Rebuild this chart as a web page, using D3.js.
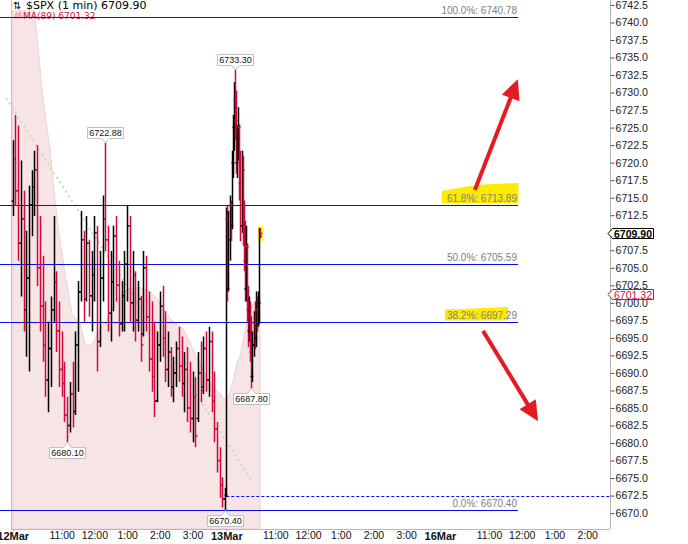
<!DOCTYPE html>
<html>
<head>
<meta charset="utf-8">
<script src="https://cdn.jsdelivr.net/npm/d3@7/dist/d3.min.js"></script>
<style>
  body { margin: 0; background: #fff; }
  svg { display: block; }
</style>
</head>
<body>
<div id="chart"></div>
<script>
// $SPX 1 min. rows: [minute of session, open, high, low, close]
const mar12Bars = [
  [0,6714.5,6723.2,6712.4,6720.5],[5,6720.5,6726.8,6713.8,6716.0],[10,6716.0,6725.3,6706.0,6708.5],
  [15,6708.5,6720.3,6700.9,6712.0],[20,6712.0,6716.0,6695.9,6699.0],[25,6699.0,6710.3,6692.3,6703.5],
  [30,6703.5,6716.7,6690.2,6714.0],[35,6714.0,6718.9,6709.5,6716.5],[40,6716.5,6721.7,6712.4,6719.0],
  [45,6719.0,6722.5,6702.4,6705.0],[50,6705.0,6712.4,6695.9,6699.5],[55,6699.5,6706.7,6691.6,6694.0],
  [60,6694.0,6700.2,6686.6,6689.0],[65,6689.0,6697.3,6684.4,6693.5],[70,6693.5,6700.9,6688.0,6699.0],
  [75,6699.0,6712.4,6697.3,6703.0],[80,6703.0,6704.5,6693.0,6696.0],[85,6696.0,6700.2,6688.0,6690.5],
  [90,6690.5,6695.9,6686.6,6688.5],[95,6688.5,6691.6,6683.0,6684.0],[100,6684.0,6686.6,6680.1,6682.5],
  [105,6682.5,6688.7,6681.5,6687.0],[110,6687.0,6691.6,6682.2,6684.5],[115,6684.5,6695.9,6684.0,6694.0],
  [120,6694.0,6703.1,6687.3,6701.5],[125,6701.5,6713.1,6700.2,6709.0],[130,6709.0,6710.3,6697.3,6700.5],
  [135,6700.5,6712.4,6700.2,6708.5],[140,6708.5,6709.0,6698.0,6701.0],[145,6701.0,6707.4,6695.9,6704.0],
  [150,6704.0,6712.4,6700.2,6710.0],[155,6710.0,6711.0,6690.2,6694.5],[160,6694.5,6707.4,6693.7,6703.5],
  [165,6703.5,6715.3,6700.2,6712.0],[170,6712.0,6722.88,6707.4,6709.0],[175,6709.0,6711.0,6695.9,6698.5],
  [180,6698.5,6707.4,6694.5,6703.0],[185,6703.0,6711.0,6698.8,6709.5],[190,6709.5,6712.4,6700.2,6702.5],
  [195,6702.5,6706.0,6695.2,6697.0],[200,6697.0,6703.1,6695.9,6701.0],[205,6701.0,6707.4,6695.9,6705.5],
  [210,6705.5,6713.8,6700.2,6711.0],[215,6711.0,6712.4,6697.3,6700.0],[220,6700.0,6707.4,6695.9,6704.0],
  [225,6704.0,6704.5,6694.5,6697.5],[230,6697.5,6703.1,6695.9,6700.5],[235,6700.5,6701.0,6691.6,6694.0],
  [240,6695.5,6707.4,6695.2,6705.0],[245,6705.0,6706.7,6695.9,6698.0],[250,6698.0,6701.6,6690.2,6692.0],
  [255,6692.0,6700.2,6687.3,6689.5],[260,6689.5,6697.3,6683.7,6686.0],[265,6686.0,6695.9,6685.8,6694.0],
  [270,6694.0,6701.6,6691.6,6699.5],[275,6699.5,6702.4,6692.3,6695.0],[280,6695.0,6698.8,6688.7,6690.5],
  [285,6690.5,6695.9,6688.0,6693.0],[290,6693.0,6693.7,6686.6,6688.0],[295,6688.0,6692.3,6685.8,6690.0],
  [300,6690.0,6694.5,6688.0,6693.5],[305,6693.5,6696.6,6688.7,6691.0],[310,6691.0,6695.2,6686.6,6688.5],
  [315,6688.5,6693.0,6684.4,6690.5],[320,6690.5,6693.7,6683.0,6685.0],[325,6685.0,6691.6,6681.5,6683.5],
  [330,6683.5,6690.2,6680.1,6686.5],[335,6686.5,6689.4,6679.4,6681.0],[340,6683.5,6693.0,6683.0,6690.0],
  [345,6690.0,6694.5,6685.8,6687.5],[350,6688.0,6695.2,6687.0,6693.5],[355,6693.5,6695.9,6687.3,6689.0],
  [360,6689.0,6696.6,6686.6,6694.5],[365,6694.5,6695.9,6684.4,6686.0],[370,6686.0,6690.2,6680.1,6682.0],
  [375,6682.0,6683.0,6675.8,6677.5],[380,6677.5,6679.4,6672.2,6674.0],[385,6674.0,6675.1,6670.8,6672.0],
  [389,6672.0,6673.6,6670.4,6672.6]
];
const mar13Bars = [
  [0,6672.5,6713.6,6672.3,6712.0],[2,6712.0,6713.8,6700.2,6702.0],[4,6702.0,6713.1,6701.6,6709.0],
  [6,6709.0,6715.3,6706.0,6714.0],[8,6714.0,6714.6,6708.8,6711.0],[10,6711.0,6721.7,6710.5,6720.0],
  [12,6720.0,6726.8,6717.8,6725.0],[14,6725.0,6731.5,6721.7,6729.0],[16,6729.0,6733.3,6723.2,6726.0],
  [18,6726.0,6730.3,6718.4,6720.0],[20,6720.0,6725.3,6717.8,6722.5],[22,6722.5,6727.9,6720.3,6725.0],
  [24,6725.0,6725.5,6714.6,6717.0],[26,6717.0,6721.7,6708.8,6711.0],[28,6711.0,6721.7,6710.0,6719.0],
  [30,6719.0,6721.0,6708.1,6710.0],[32,6710.0,6714.6,6704.5,6706.0],[34,6706.0,6711.7,6700.2,6702.0],
  [36,6702.0,6711.0,6700.2,6708.0],[38,6708.0,6708.5,6697.3,6699.0],[40,6699.0,6702.4,6693.7,6696.0],
  [42,6696.0,6700.9,6694.5,6698.0],[44,6698.0,6700.2,6691.6,6693.0],[46,6693.0,6698.0,6687.8,6689.5],
  [48,6689.5,6695.9,6688.7,6694.0],[50,6694.0,6698.8,6692.3,6697.0],[52,6697.0,6700.2,6693.4,6695.0],
  [54,6695.0,6701.6,6693.7,6699.0],[56,6699.0,6700.9,6695.9,6697.0],[58,6697.0,6701.6,6696.6,6700.0],
  [60,6700.0,6710.7,6697.0,6709.5],[62,6710.3,6710.6,6709.2,6709.9]
];

// MA(89): [day, minute, value]
const maPoints = [
  [0,0,6748],[0,37,6745],[0,41,6740.8],[0,56,6728.9],[0,69,6721.7],[0,74,6717.4],[0,83,6711.0],
  [0,96,6704.2],[0,109,6698.3],[0,124,6697.0],[0,133,6694.0],[0,146,6694.0],[0,157,6695.9],
  [0,179,6698.3],[0,191,6700.6],[0,210,6701.9],[0,234,6702.2],[0,252,6701.6],[0,265,6700.6],
  [0,289,6697.7],[0,313,6696.3],[0,331,6693.4],[0,344,6691.3],[0,358,6689.1],[0,377,6687.3],
  [0,389,6686.3],[1,1,6685.8],[1,12,6688.7],[1,20,6691.6],[1,25,6692.3],[1,38,6697.3],
  [1,49,6699.9],[1,62,6700.8]
];

// dotted trend line, [day, minute, value]
const trendPoints = [[0,-12,6729.2],[1,45,6674.8]];

const fibPct = ["100.0%", "61.8%", "50.0%", "38.2%", "0.0%"];
const fibValue = [6740.78, 6713.89, 6705.59, 6697.29, 6670.40];

// labelled highs/lows: [day, minute, value, side]
const extremes = [
  [1,16,6733.30,"high"],[0,170,6722.88,"high"],[0,100,6680.10,"low"],
  [0,389,6670.40,"low"],[1,46,6687.80,"low"]
];

const tickDay = [0,0,0,0,0,0,1,1,1,1,1,1,2,2,2,2,2];
const tickMin = [0,90,150,210,270,330,0,90,150,210,270,330,0,90,150,210,270];
const tickText = ["12Mar","11:00","12:00","1:00","2:00","3:00","13Mar","11:00","12:00","1:00","2:00","3:00","16Mar","11:00","12:00","1:00","2:00"];

const lastClose = 6709.90;
const maLast = 6701.32;
const refLevel = 6672.5;

// hand drawn arrows, [slot time, price] from -> to
const arrowFrom = [[848, 6716.1], [863, 6696.0]];
const arrowTo = [[927, 6731.9], [964, 6683.1]];

const width = 688, height = 544;
const plotLeft = 11, plotRight = 610, plotBottom = 529;
const daySlot = 392;
const slot = (d, m) => d * daySlot + m;
const blue = "#0a0aee";

const x = d3.scaleLinear().domain([0, daySlot]).range([12.65, 226.3]);
const y = d3.scaleLinear().domain([6670.4, 6740.78]).range([510.3, 17]);

const svg = d3.select("#chart").append("svg")
    .attr("width", width)
    .attr("height", height)
    .style("font-family", "'Liberation Sans', Arial, sans-serif");

svg.append("defs").append("clipPath").attr("id", "plot")
  .append("rect").attr("x", plotLeft).attr("y", 0)
  .attr("width", plotRight - plotLeft).attr("height", plotBottom);

// MA area
const maArea = d3.area()
    .x(d => x(slot(d[0], d[1])))
    .y0(plotBottom)
    .y1(d => y(d[2]));
svg.append("path")
    .datum(maPoints)
    .attr("clip-path", "url(#plot)")
    .attr("fill", "#f7e4e4")
    .attr("stroke", "#efd2d2")
    .attr("d", maArea);

// frame
svg.append("line").attr("x1", plotLeft + 0.5).attr("x2", plotLeft + 0.5)
    .attr("y1", 0).attr("y2", plotBottom).attr("stroke", "#c4c4c4");
svg.append("line").attr("x1", plotLeft).attr("x2", plotRight)
    .attr("y1", plotBottom + 0.5).attr("y2", plotBottom + 0.5).attr("stroke", "#b8b8b8");

// legend
svg.append("rect").attr("x", 12).attr("y", 0).attr("width", 140).attr("height", 10).attr("fill", "#fff");
svg.append("text").attr("x", 13).attr("y", 8.5)
    .style("font-family", "'DejaVu Sans', sans-serif").style("font-size", "10px")
    .text("\u21C5");
svg.append("text").attr("x", 26).attr("y", 8.5)
    .style("font-family", "'DejaVu Sans', sans-serif").style("font-size", "11px")
    .text("$SPX (1 min) " + lastClose.toFixed(2));
svg.append("path").attr("d", "M14,18 L16.5,12 L18.5,15 L20,11.5 L22,18 Z")
    .attr("fill", "#f1b9bd").attr("stroke", "#e48f98").attr("stroke-width", 0.6);
svg.append("text").attr("x", 23).attr("y", 19)
    .style("font-family", "'DejaVu Sans', sans-serif").style("font-size", "9px")
    .attr("fill", "#cc1144")
    .text("MA(89) " + maLast.toFixed(2));

// trend line
svg.append("line")
    .attr("x1", x(slot(trendPoints[0][0], trendPoints[0][1]))).attr("y1", y(trendPoints[0][2]))
    .attr("x2", x(slot(trendPoints[1][0], trendPoints[1][1]))).attr("y2", y(trendPoints[1][2]))
    .attr("stroke", "#c3dbb8").attr("stroke-width", 2).attr("stroke-dasharray", "2,3.5");

// fib lines
const fibX1 = 518;
svg.append("g").attr("class", "fib").selectAll("line").data(fibValue).join("line")
    .attr("x1", 0).attr("x2", fibX1)
    .attr("y1", d => Math.round(y(d)) + 0.5).attr("y2", d => Math.round(y(d)) + 0.5)
    .attr("stroke", blue)
    .attr("stroke-width", 1.2);

// dashed reference level from the 13Mar open
svg.append("line")
    .attr("x1", x(slot(1, 0))).attr("x2", plotRight)
    .attr("y1", Math.round(y(refLevel)) + 0.5).attr("y2", Math.round(y(refLevel)) + 0.5)
    .attr("stroke", blue).attr("stroke-dasharray", "3,2");

// fib labels with highlighter marks under 61.8 / 38.2
const fibLabelG = svg.append("g");
const fibLabels = fibLabelG.selectAll("text").data(fibValue).join("text")
    .attr("x", fibX1 - 1)
    .attr("y", d => Math.round(y(d)) - 3)
    .attr("text-anchor", "end")
    .attr("fill", "#808080")
    .style("font-size", "10px")
    .text((d, i) => fibPct[i] + ": " + d.toFixed(2));

const hl = [];
fibLabels.each(function(d, i) {
  if (i === 1 || i === 3) hl.push({i, bb: this.getBBox(), ly: Math.round(y(d))});
});
const hlLine = d3.line().curve(d3.curveBasis);
hl.forEach(h => {
  const l = h.bb.x - (h.i === 1 ? 5 : 2);
  const r = h.i === 1 ? h.bb.x + h.bb.width + 1 : h.bb.x + h.bb.width * 0.87;
  const b = h.ly - 1.5;
  const top = h.i === 1
    ? [[l, h.ly - 14], [l + 20, h.ly - 18], [l + 45, h.ly - 21], [r, h.ly - 22]]
    : [[l, h.ly - 12.5], [l + 30, h.ly - 13.5], [r, h.ly - 15]];
  fibLabelG.insert("path", "text")
      .attr("d", hlLine(top) + `L${r},${b}L${l},${b}Z`)
      .attr("fill", "#ffea00");
});

// OHLC bars
const bars = mar12Bars.map(b => ({t: slot(0, b[0]), o: b[1], h: b[2], l: b[3], c: b[4]}))
  .concat(mar13Bars.map(b => ({t: slot(1, b[0]), o: b[1], h: b[2], l: b[3], c: b[4]})));

const last = bars[bars.length - 1];
svg.append("rect")
    .attr("x", Math.round(x(last.t)) - 2).attr("y", y(last.h) - 2.5)
    .attr("width", 5).attr("height", y(last.l) - y(last.h) + 5)
    .attr("fill", "#ffff40");

svg.append("g")
    .attr("clip-path", "url(#plot)")
    .selectAll("path").data(bars).join("path")
    .attr("fill", "none")
    .attr("stroke", d => d.c < d.o ? "#d0083c" : "#000")
    .attr("stroke-width", 1.5)
    .attr("d", d => {
      const px = Math.round(x(d.t)) + 0.5;
      return `M${px},${y(d.h)}V${y(d.l)}M${px - 2},${y(d.o)}H${px}M${px},${y(d.c)}H${px + 2}`;
    });

// labelled extremes
const exG = svg.append("g").style("font-size", "9px");
extremes.forEach(e => {
  const px = Math.round(x(slot(e[0], e[1]))) + 0.5;
  const py = y(e[2]);
  const w = 36, hgt = 11, l = px - w / 2, r = px + w / 2;
  let d, ty;
  if (e[3] === "high") {
    const b = Math.round(py - 4) + 0.5, t = b - hgt;
    d = `M${l},${t}H${r}V${b}H${px + 4}L${px},${py}L${px - 4},${b}H${l}Z`;
    ty = b - 2.5;
  } else {
    const t = Math.round(py + 5) + 0.5, b = t + hgt;
    d = `M${l},${t}H${px - 4}L${px},${py}L${px + 4},${t}H${r}V${b}H${l}Z`;
    ty = b - 2.5;
  }
  exG.append("path").attr("d", d).attr("fill", "#fff").attr("stroke", "#c0c0c0");
  exG.append("text").attr("x", px).attr("y", ty).attr("text-anchor", "middle")
      .attr("fill", "#111").text(e[2].toFixed(2));
});

// axes
const yTicks = d3.range(6670, 6742.51, 2.5).filter(v => Math.abs(y(v) - y(lastClose)) > 6);
const yAxis = d3.axisRight(y)
    .tickValues(yTicks)
    .tickFormat(d3.format(".1f"))
    .tickSize(4).tickPadding(1);
const yg = svg.append("g").attr("transform", `translate(${plotRight + 0.5},0)`).call(yAxis);
yg.select(".domain").attr("stroke", "#b4b4b4").attr("d", `M0,0V${plotBottom}`);
yg.selectAll(".tick line").attr("stroke", "#555");
yg.selectAll(".tick text").attr("fill", "#222").style("font-size", "10.6px")
    .style("font-family", "'Liberation Sans', Arial, sans-serif");

const xAxis = d3.axisBottom(x)
    .tickValues(tickDay.map((d, i) => slot(d, tickMin[i])))
    .tickFormat((d, i) => tickText[i])
    .tickSize(3);
const xg = svg.append("g").attr("transform", `translate(0,${plotBottom})`).call(xAxis);
xg.select(".domain").remove();
xg.selectAll(".tick line").attr("stroke", "#b0b0b0");
xg.selectAll(".tick text")
    .attr("y", 3).attr("fill", "#111")
    .style("font-family", "'Liberation Sans', Arial, sans-serif")
    .style("font-size", (d, i) => tickMin[i] === 0 ? "11px" : "10.5px")
    .style("font-weight", (d, i) => tickMin[i] === 0 ? "bold" : "normal");

// price flags on the axis
function flag(v, stroke, color, bold) {
  const cy = Math.round(y(v)) + 0.5;
  svg.append("path")
      .attr("d", `M${plotRight - 2},${cy}L${plotRight + 2.5},${cy - 5}H${plotRight + 43.5}V${cy + 5}H${plotRight + 2.5}Z`)
      .attr("fill", "#fff").attr("stroke", stroke);
  svg.append("text").attr("x", plotRight + 23).attr("y", cy + 4)
      .attr("text-anchor", "middle").attr("fill", color)
      .style("font-size", "10.5px").style("font-weight", bold ? "bold" : "normal")
      .text(v.toFixed(2));
}
flag(lastClose, "#000", "#000", true);
flag(maLast, "#cc1144", "#cc1144", false);

// red arrows
const arrowG = svg.append("g");
arrowFrom.forEach((f, i) => {
  const x0 = x(f[0]), y0 = y(f[1]), x1 = x(arrowTo[i][0]), y1 = y(arrowTo[i][1]);
  const len = Math.hypot(x1 - x0, y1 - y0), ux = (x1 - x0) / len, uy = (y1 - y0) / len;
  const bx = x1 - ux * 20, by = y1 - uy * 20;
  arrowG.append("line").attr("x1", x0).attr("y1", y0)
      .attr("x2", x1 - ux * 16).attr("y2", y1 - uy * 16)
      .attr("stroke", "#e41c22").attr("stroke-width", 4);
  arrowG.append("path")
      .attr("d", `M${x1},${y1}L${bx - uy * 9.5},${by + ux * 9.5}L${bx + uy * 9.5},${by - ux * 9.5}Z`)
      .attr("fill", "#e41c22");
});
</script>
</body>
</html>
